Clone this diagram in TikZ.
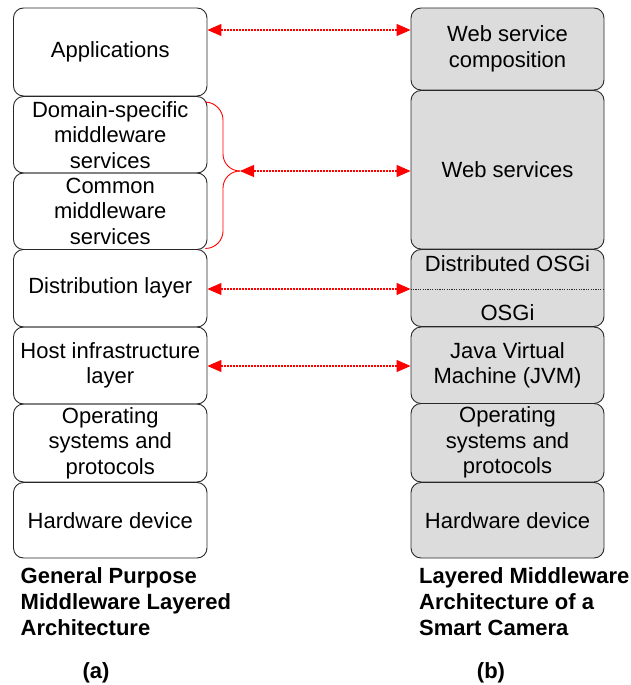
\documentclass[tikz,border=0pt]{standalone}
\usepackage{fontspec}
\setmainfont{Liberation Sans}
\usetikzlibrary{arrows.meta,calc}
\definecolor{boxgray}{RGB}{220,220,220}
\definecolor{edgegray}{RGB}{40,40,40}
\begin{document}
\begin{tikzpicture}[x=1pt,y=-1pt,
  layer/.style={draw=edgegray, line width=0.9pt, rounded corners=10pt, inner sep=0pt, align=center,
     font=\fontsize{22}{25.5}\selectfont, minimum width=193.5pt},
  glayer/.style={layer, fill=boxgray, minimum width=193pt},
  link/.style={red, line width=1.1pt, dash pattern=on 2pt off 1pt,
     {Triangle[length=14pt,width=12pt]}-{Triangle[length=14pt,width=12pt]}},
  captext/.style={font=\fontsize{22}{26}\selectfont\bfseries, align=left, anchor=north west, inner sep=0pt},
  lbl/.style={font=\fontsize{22}{26}\selectfont\bfseries, inner sep=0pt}
]
\useasboundingbox (0,0) rectangle (630,685);
% left column
\node[layer, minimum height=88pt] (app) at (110.25,52) {Applications};
\node[layer, minimum height=76.5pt] (dom) at (110.25,134.75) {Domain-specific\\middleware\\services};
\node[layer, minimum height=76.5pt] (com) at (110.25,211.25) {Common\\middleware\\services};
\node[layer, minimum height=77.5pt] (dist) at (110.25,288.25) {Distribution layer};
\node[layer, minimum height=77pt] (host) at (110.25,365.5) {Host infrastructure\\layer};
\node[layer, minimum height=78pt] (os) at (110.25,443) {Operating\\systems and\\protocols};
\node[layer, minimum height=75.5pt] (hw) at (110.25,520.25) {Hardware device};
% right column
\node[glayer, minimum height=82pt] (wsc) at (507.5,49) {Web service\\composition};
\node[glayer, minimum height=158.5pt] (ws) at (507.5,169.75) {Web services};
\node[glayer, minimum height=77pt] (dosgi) at (507.5,288) {};
\node[font=\fontsize{22}{25.5}\selectfont, inner sep=0pt] (dosgit) at (507.5,264) {Distributed OSGi};
\node[font=\fontsize{22}{25.5}\selectfont, inner sep=0pt] (osgit) at (507.5,313) {OSGi};
\draw[edgegray, line width=0.8pt, dash pattern=on 1.2pt off 1.2pt] ([yshift=-1pt]dosgi.west) -- ([yshift=-1pt]dosgi.east);
\node[glayer, minimum height=76.5pt] (jvm) at (507.5,365.25) {Java Virtual\\Machine (JVM)};
\node[glayer, minimum height=78.5pt] (ros) at (507.5,442.75) {Operating\\systems and\\protocols};
\node[glayer, minimum height=75.5pt] (rhw) at (507.5,520.25) {Hardware device};
% brace
\coordinate (tip) at (240,171);
\draw[red, line width=0.9pt, rounded corners=17pt] (dom.north east) ++(-2,6) -- (223,103) -- (223,171) -- (tip);
\draw[red, line width=0.9pt, rounded corners=17pt] (com.south east) ++(-2,-1.5) -- (223,248) -- (223,171) -- (tip);
% links
\draw[link] ([yshift=22pt]app.east) -- ([yshift=22pt]app.east -| wsc.west);
\draw[link] (tip) -- (tip -| ws.west);
\draw[link] ([yshift=-0.75pt]dist.east) -- ([yshift=-0.75pt]dist.east -| dosgi.west);
\draw[link] ([yshift=-0.5pt]host.east) -- ([yshift=-0.5pt]host.east -| jvm.west);
% captions
\node[captext] (capa) at (20.5,567) {General Purpose\\Middleware Layered\\Architecture};
\node[captext] (capb) at (419,567) {Layered Middleware\\Architecture of a\\Smart Camera};
\node[lbl] (la) at (96,673) {(a)};
\node[lbl] (lb) at (491,673) {(b)};
\end{tikzpicture}
\end{document}
